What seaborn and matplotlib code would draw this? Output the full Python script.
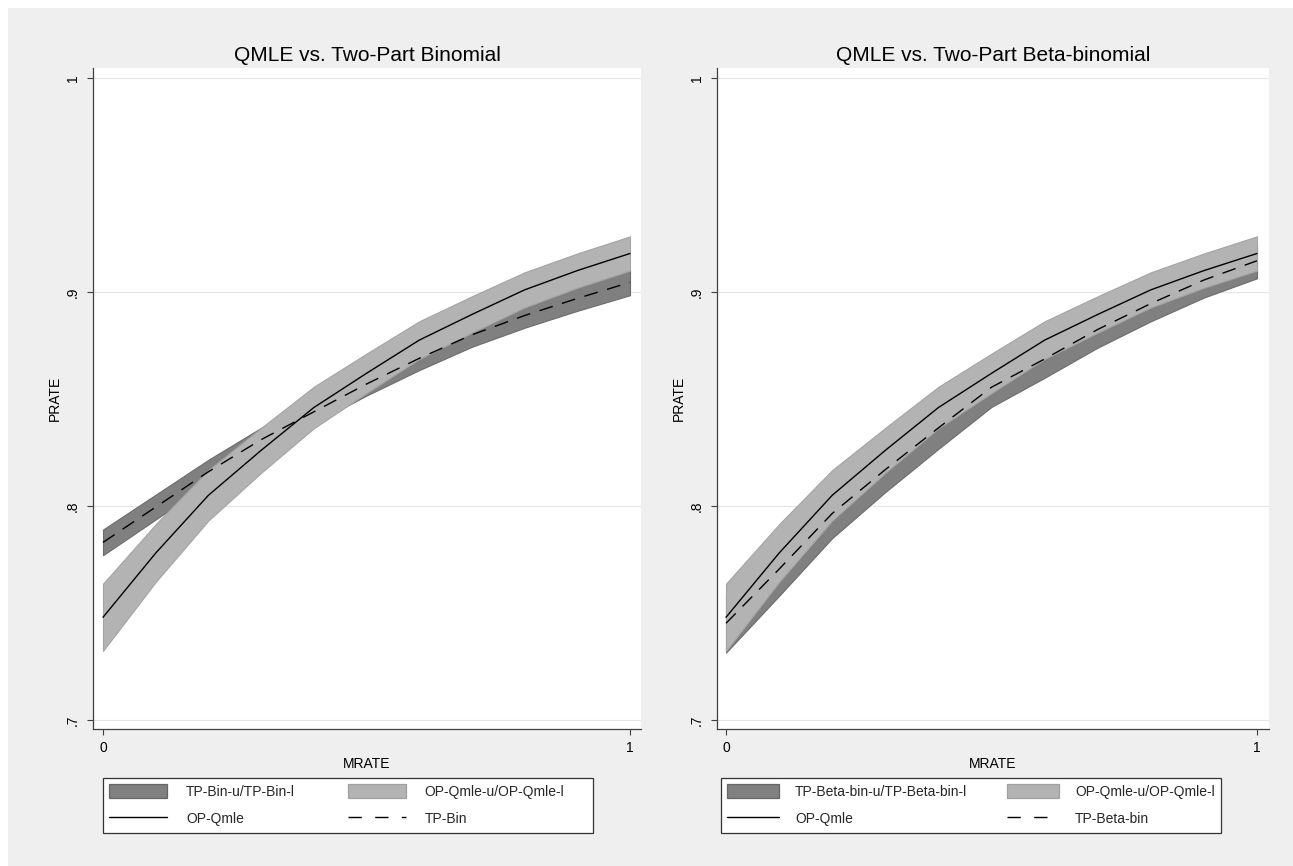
import matplotlib
matplotlib.use("Agg")
import matplotlib.pyplot as plt
import numpy as np
import pandas as pd
import seaborn as sns
from matplotlib.patches import Rectangle, Patch
from matplotlib.lines import Line2D

# ---------------- data ----------------
mrate = [0.0, 0.1, 0.2, 0.3, 0.4, 0.5, 0.6, 0.7, 0.8, 0.9, 1.0]

op_qmle   = [0.748, 0.778, 0.805, 0.826, 0.846, 0.862, 0.8775, 0.8895, 0.901, 0.910, 0.918]
op_qmle_u = [0.7637, 0.7915, 0.8168, 0.8365, 0.8557, 0.8712, 0.8863, 0.8980, 0.9092, 0.9180, 0.9260]
op_qmle_l = [0.7323, 0.7645, 0.7932, 0.8155, 0.8363, 0.8528, 0.8687, 0.8810, 0.8928, 0.9020, 0.9100]

tp_bin   = [0.783, 0.7995, 0.816, 0.831, 0.844, 0.857, 0.869, 0.880, 0.889, 0.897, 0.9045]
tp_bin_u = [0.789, 0.8053, 0.8216, 0.8365, 0.8494, 0.8624, 0.8745, 0.8856, 0.8947, 0.9028, 0.9105]
tp_bin_l = [0.777, 0.7937, 0.8104, 0.8255, 0.8386, 0.8516, 0.8635, 0.8744, 0.8833, 0.8912, 0.8985]

tp_bb   = [0.7452, 0.7705, 0.7965, 0.817, 0.8365, 0.8555, 0.8687, 0.8825, 0.8946, 0.9056, 0.9146]
tp_bb_u = [0.7589, 0.7830, 0.8080, 0.8275, 0.8463, 0.8647, 0.8775, 0.8910, 0.9029, 0.9138, 0.9228]
tp_bb_l = [0.7315, 0.7580, 0.7850, 0.8065, 0.8267, 0.8463, 0.8599, 0.8740, 0.8863, 0.8974, 0.9064]

y_ticks = [0.7, 0.8, 0.9, 1.0]
y_tick_labels = [".7", ".8", ".9", "1"]
x_ticks = [0, 1]
x_tick_labels = ["0", "1"]

titles = ["QMLE vs. Two-Part Binomial", "QMLE vs. Two-Part Beta-binomial"]
band_labels = [["TP-Bin-u/TP-Bin-l", "OP-Qmle-u/OP-Qmle-l"],
               ["TP-Beta-bin-u/TP-Beta-bin-l", "OP-Qmle-u/OP-Qmle-l"]]
line_labels = [["OP-Qmle", "TP-Bin"], ["OP-Qmle", "TP-Beta-bin"]]

# ---------------- style ----------------
sns.set_theme(style="white")
plt.rcParams["font.family"] = ["Liberation Sans", "DejaVu Sans"]
plt.rcParams["lines.scale_dashes"] = False

W, H = 1293, 866
fig = plt.figure(figsize=(W / 100, H / 100), dpi=100)
fig.patch.set_facecolor("white")

def fx(px):
    return px / W

def fy(py):
    return 1 - py / H

fig.add_artist(Rectangle((fx(8), 0), 1 - fx(8), fy(8), transform=fig.transFigure,
                         facecolor="#efefef", edgecolor="none", zorder=-100))

DARK, DARK_E = "#808080", "#6c6c6c"
LIGHT, LIGHT_E = "#b3b3b3", "#a4a4a4"
DASH = (0, (10.0, 7.0))
LEG_DASH = (0, (9.6, 9.6))
AX_COL = "#404040"

panels = [
    dict(x0=93, x1=641, xl=(-10 / 527, 1 + 11 / 527), tp=tp_bin, tpu=tp_bin_u, tpl=tp_bin_l,
         leg_box=(103, 778, 593, 833), leg_x=109, hl=4.17, htp=1.37, cs=3.8),
    dict(x0=717, x1=1269, xl=(-9 / 531, 1 + 12 / 531), tp=tp_bb, tpu=tp_bb_u, tpl=tp_bb_l,
         leg_box=(721, 778, 1221, 833), leg_x=727, hl=3.74, htp=1.15, cs=2.88),
]
y_top, y_bot = 68, 729
ylim = (0.7 - 9 / 2140, 1.0 + 10 / 2140)

for i, p in enumerate(panels):
    ax = fig.add_axes([fx(p["x0"]), fy(y_bot), (p["x1"] - p["x0"]) / W, (y_bot - y_top) / H])
    ax.set_facecolor("white")
    df = pd.DataFrame({"MRATE": mrate, "OP": op_qmle, "TP": p["tp"]})

    ax.fill_between(mrate, p["tpl"], p["tpu"], facecolor=DARK, edgecolor=DARK_E, lw=0.8, zorder=2)
    ax.fill_between(mrate, op_qmle_l, op_qmle_u, facecolor=LIGHT, edgecolor=LIGHT_E, lw=0.8, zorder=3)
    sns.lineplot(data=df, x="MRATE", y="OP", ax=ax, color="black", lw=1.0, zorder=4)
    sns.lineplot(data=df, x="MRATE", y="TP", ax=ax, color="black", lw=1.0, linestyle=DASH, zorder=5)

    ax.set_xlim(*p["xl"])
    ax.set_ylim(*ylim)
    ax.set_xticks(x_ticks, x_tick_labels)
    ax.set_yticks(y_ticks, y_tick_labels, rotation=90, va="center")
    ax.yaxis.grid(True, color="#e6e6e6", lw=0.8)
    ax.xaxis.grid(False)
    ax.set_axisbelow(True)
    for s in ["top", "right"]:
        ax.spines[s].set_visible(False)
    for s in ["left", "bottom"]:
        ax.spines[s].set_color(AX_COL)
        ax.spines[s].set_linewidth(0.9)
    ax.tick_params(axis="both", which="major", bottom=True, left=True, direction="out",
                   length=4.3, width=0.8, color=AX_COL, pad=4, labelsize=10, labelcolor="black")
    ax.tick_params(axis="y", pad=5)
    ax.set_xlabel("MRATE", fontsize=10, labelpad=2, color="black")
    ax.set_ylabel("PRATE", fontsize=10, labelpad=3, color="black")
    ax.set_title(titles[i], fontsize=15, pad=5, color="black")

    # legend frame
    bx0, by0, bx1, by1 = p["leg_box"]
    fig.add_artist(Rectangle((fx(bx0), fy(by1)), (bx1 - bx0) / W, (by1 - by0) / H,
                             transform=fig.transFigure, facecolor="white",
                             edgecolor="#333333", lw=0.9, zorder=5))
    handles = [
        Patch(facecolor=DARK, edgecolor="#666666", lw=0.9),
        Line2D([], [], color="black", lw=1.0),
        Patch(facecolor=LIGHT, edgecolor="#a0a0a0", lw=0.9),
        Line2D([], [], color="black", lw=1.0, linestyle=LEG_DASH),
    ]
    labels = [band_labels[i][0], line_labels[i][0], band_labels[i][1], line_labels[i][1]]
    leg = fig.legend(handles, labels, ncol=2, loc="upper left",
                     bbox_to_anchor=(fx(p["leg_x"]), fy(784)), frameon=False,
                     borderpad=0, borderaxespad=0, fontsize=10,
                     handlelength=p["hl"], handleheight=1.13, handletextpad=p["htp"],
                     columnspacing=p["cs"], labelspacing=0.93)
    leg.set_zorder(6)

fig.savefig("out.png", dpi=100, facecolor=fig.get_facecolor())
